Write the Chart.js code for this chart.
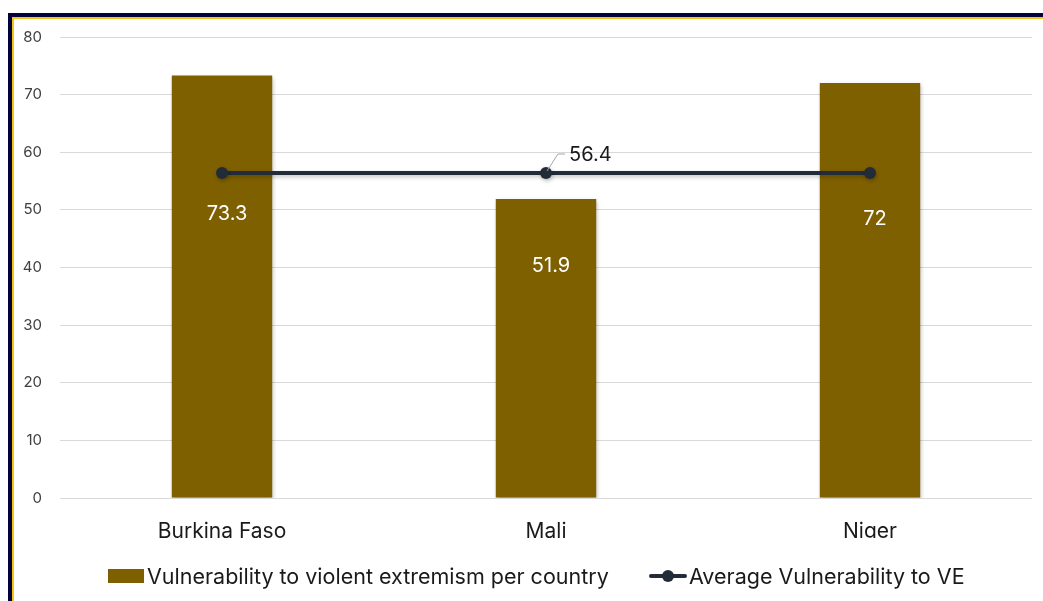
<!DOCTYPE html>
<html>
<head>
<meta charset="utf-8">
<script src="https://cdn.jsdelivr.net/npm/chart.js@4.4.1/dist/chart.umd.min.js"></script>
<style>
  html, body { margin: 0; padding: 0; background: #fff; overflow: hidden; }
  #frame {
    position: absolute; left: 8px; top: 13px; width: 1100px; height: 700px;
    border: 4px solid #02023c; box-sizing: border-box;
  }
  #frame > div {
    position: absolute; inset: 0; border-top: 2px solid #f5c518; border-left: 2px solid #f5c518;
  }
  #wrap { position: absolute; left: 0; top: 0; width: 1043px; height: 601px; }
  .legend-item {
    position: absolute; top: 562px; height: 28px; display: flex; align-items: center;
    font: 21.5px Inter, 'Open Sans', sans-serif; color: #1a1a1a; white-space: nowrap;
  }
  .swatch { width: 36px; height: 14px; background: #7f6000; margin-right: 3px; }
  .line-icon { position: relative; width: 40px; height: 14px; margin-right: 1px; }
  .line-icon::before {
    content: ""; position: absolute; left: 1px; right: 1px; top: 5px; height: 4px;
    background: #222b38; border-radius: 2px;
  }
  .line-icon::after {
    content: ""; position: absolute; left: 14px; top: 1px; width: 12px; height: 12px;
    background: #222b38; border-radius: 50%;
  }
</style>
</head>
<body>
<div id="frame"><div></div></div>
<div id="wrap"><canvas id="veChart"></canvas></div>
<div class="legend-item" style="left:108px"><span class="swatch"></span><span id="lg0"></span></div>
<div class="legend-item" style="left:648px"><span class="line-icon"></span><span id="lg1"></span></div>
<script>
const countries = ["Burkina Faso", "Mali", "Niger"];
const vulnerability = [73.3, 51.9, 72];
const average = [56.4, 56.4, 56.4];
const yTicks = [0, 10, 20, 30, 40, 50, 60, 70, 80];
const seriesNames = ["Vulnerability to violent extremism per country", "Average Vulnerability to VE"];

const barColor = "#7f6000";
const lineColor = "#222b38";
const font = "Inter, 'Open Sans', sans-serif";

// bar value labels were nudged down so the average line stays readable
const barLabelDrop = [138, 67, 136];

document.getElementById("lg0").textContent = seriesNames[0];
document.getElementById("lg1").textContent = seriesNames[1];

const shadows = {
    id: "shadows",
    beforeDatasetDraw(chart) {
        const ctx = chart.ctx;
        ctx.save();
        ctx.shadowColor = "rgba(0,0,0,0.25)";
        ctx.shadowBlur = 4;
        ctx.shadowOffsetX = 1;
        ctx.shadowOffsetY = 2;
    },
    afterDatasetDraw(chart) {
        chart.ctx.restore();
    }
};

const valueLabels = {
    id: "valueLabels",
    afterDatasetsDraw(chart) {
        const ctx = chart.ctx;
        ctx.save();
        ctx.font = "20px " + font;
        ctx.textAlign = "center";
        ctx.textBaseline = "middle";
        ctx.fillStyle = "#ffffff";
        chart.getDatasetMeta(0).data.forEach((bar, i) => {
            ctx.fillText(String(vulnerability[i]), bar.x + 5, bar.y + barLabelDrop[i]);
        });

        // label for the average, with a small leader line off the middle point
        const p = chart.getDatasetMeta(1).data[1];
        ctx.strokeStyle = "#a6a6a6";
        ctx.lineWidth = 1;
        ctx.beginPath();
        ctx.moveTo(p.x + 1, p.y - 2);
        ctx.lineTo(p.x + 12, p.y - 19);
        ctx.lineTo(p.x + 19, p.y - 19);
        ctx.stroke();
        ctx.fillStyle = "#1a1a1a";
        ctx.font = "20px " + font;
        ctx.textAlign = "left";
        ctx.fillText(String(average[1]), p.x + 23, p.y - 18);
        ctx.restore();
    }
};

new Chart(document.getElementById("veChart"), {
    data: {
        labels: countries,
        datasets: [
            {
                type: "bar",
                label: seriesNames[0],
                data: vulnerability,
                backgroundColor: barColor,
                barPercentage: 0.62,
                categoryPercentage: 0.5,
                order: 2
            },
            {
                type: "line",
                label: seriesNames[1],
                data: average,
                borderColor: lineColor,
                backgroundColor: lineColor,
                borderWidth: 4,
                pointRadius: 6,
                pointBackgroundColor: lineColor,
                pointBorderWidth: 0,
                fill: false,
                order: 1
            }
        ]
    },
    plugins: [shadows, valueLabels],
    options: {
        responsive: true,
        maintainAspectRatio: false,
        animation: false,
        layout: { padding: { top: 37, right: 11, left: 0, bottom: 63 } },
        plugins: {
            tooltip: { enabled: false },
            legend: { display: false }
        },
        scales: {
            x: {
                grid: { display: false },
                border: { display: false },
                ticks: { color: "#1a1a1a", font: { family: font, size: 21 }, padding: 13 },
                afterFit(scale) { scale.height = 40; }
            },
            y: {
                min: 0,
                max: 80,
                afterBuildTicks(scale) { scale.ticks = yTicks.map(v => ({ value: v })); },
                grid: { color: "#d9d9d9", lineWidth: 1, drawTicks: false },
                border: { display: false },
                ticks: { color: "#404040", font: { family: font, size: 15 }, padding: 18 },
                afterFit(scale) { scale.width = 60; }
            }
        }
    }
});
</script>
</body>
</html>
